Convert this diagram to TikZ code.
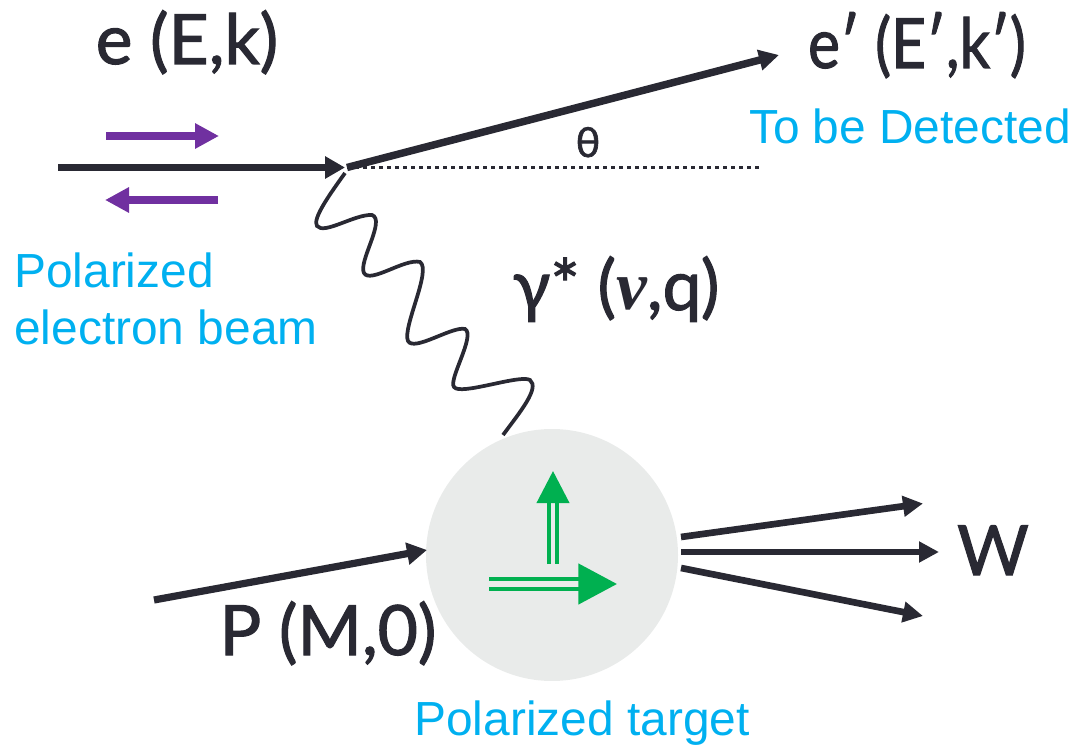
\documentclass[tikz,border=0pt]{standalone}
\usepackage{fontspec}
\setmainfont{Lato}
\newfontfamily\handfont[FakeBold=1.6]{Lato}
\newfontfamily\bluefont{Liberation Sans}
\newfontfamily\nufont{Liberation Serif}
\usetikzlibrary{arrows.meta}
\definecolor{ink}{RGB}{41,41,51}
\definecolor{sky}{RGB}{0,176,240}
\definecolor{violet}{RGB}{112,48,160}
\definecolor{leaf}{RGB}{0,176,80}
\definecolor{disc}{RGB}{233,235,234}
\tikzset{
  x=0.75pt,y=-0.75pt,
  hand/.style={font=\handfont\fontsize{52}{52}\selectfont,text=ink,inner sep=0pt,anchor=base},
  bluetext/.style={font=\bluefont\fontsize{35.9}{36}\selectfont,text=sky,inner sep=0pt,anchor=base},
  beam/.style={draw=ink,line width=5.4pt,-{Triangle[length=15pt,width=16pt]}},
  spin/.style={draw=violet,line width=5.4pt,-{Triangle[length=18pt,width=18pt]}},
  wave/.style={draw=ink,line width=2.8pt},
  fin/.style={draw=ink,line width=5pt,-{Triangle[length=15pt,width=15pt]}},
}
\begin{document}
\begin{tikzpicture}
\useasboundingbox (0,0) rectangle (1075,745);
\node[circle,fill=disc,minimum size=189pt,inner sep=0pt] (target) at (552,555) {};
\coordinate (vertex) at (345,167.5);
\coordinate (beamstart) at (58,167.5);
\coordinate (scattered) at (779,55);
\coordinate (dotend) at (760,167.5);
\coordinate (wavestart) at (345,173);
\coordinate (waveend) at (503,435);
\coordinate (pstart) at (154,600);
\coordinate (ptip) at (427,550);
\coordinate (outAs) at (681,537); \coordinate (outAe) at (923,503.5);
\coordinate (outBs) at (681,552); \coordinate (outBe) at (939,552);
\coordinate (outCs) at (681,568); \coordinate (outCe) at (923,616);
\coordinate (sa) at (106,136); \coordinate (sb) at (219,136);
\coordinate (sc) at (218,200); \coordinate (sd) at (105,200);
\coordinate (ga) at (553,564); \coordinate (gb) at (553,471);
\coordinate (gc) at (489,584); \coordinate (gd) at (617,584);

\draw[beam] (beamstart) -- (vertex);
\draw[draw=ink,line width=5.6pt,-{Triangle[length=15pt,width=15pt]}] (347,167.5) -- (scattered);
\draw[draw=ink,line width=2.9pt,dash pattern=on 3pt off 3pt] (347,167.5) -- (dotend);
\draw[spin] (sa) -- (sb);
\draw[spin] (sc) -- (sd);
\draw[wave] (wavestart)
  .. controls (330,194) and (312,219) .. (317,226)
  .. controls (324,235) and (355,214) .. (372,215)
  .. controls (386,220) and (358,262) .. (364,273)
  .. controls (370,284) and (405,258) .. (420,262)
  .. controls (432,270) and (402,328) .. (408,341)
  .. controls (414,352) and (452,326) .. (465,329)
  .. controls (476,335) and (448,380) .. (454,387)
  .. controls (460,396) and (520,374) .. (530,380)
  .. controls (540,388) and (520,412) .. (waveend);
\draw[beam] (pstart) -- (ptip);
\draw[fin] (outAs) -- (outAe);
\draw[fin] (outBs) -- (outBe);
\draw[fin] (outCs) -- (outCe);
\draw[draw=leaf,line width=3pt,double=disc,double distance=2.6pt,-{Triangle[length=24pt,width=24pt]}] (ga) -- (gb);
\draw[draw=leaf,line width=3.6pt,double=disc,double distance=3.8pt,-{Triangle[length=29pt,width=30pt]}] (gc) -- (gd);

\node[hand] (lbe) at (187,64) {e (E,k)};
\node[hand] (lbep) at (917,68) {\scalebox{0.87}[1]{e′ (E′,k′)}};
\node[hand,font=\handfont\fontsize{31}{31}\selectfont] (lbth) at (588,157) {θ};
\node[hand] (lbg) at (616,310) {γ* ({\nufont\bfseries\itshape ν},q)};
\node[hand] (lbp) at (328,655) {P (M,0)};
\node[hand] (lbw) at (993,575) {W};
\node[bluetext] (lbd) at (910,144) {To be Detected};
\node[bluetext,anchor=base west] (lbb1) at (14,288) {Polarized};
\node[bluetext,anchor=base west] (lbb2) at (14,345) {electron beam};
\node[bluetext] (lbt) at (582,735) {Polarized target};
\end{tikzpicture}
\end{document}
